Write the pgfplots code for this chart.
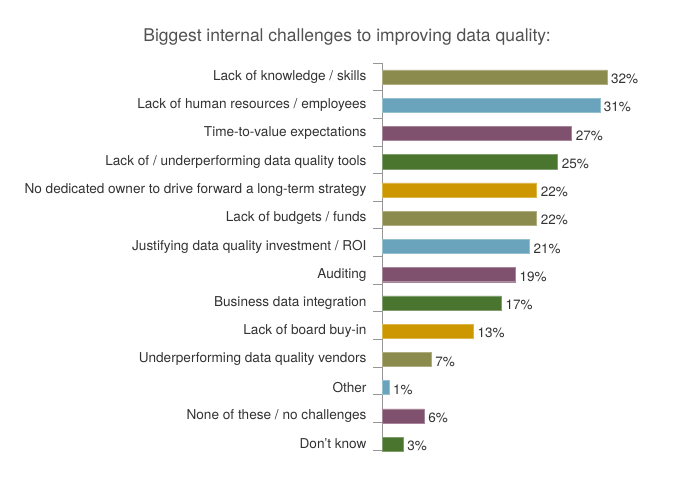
\documentclass[border=0pt]{standalone}
\usepackage{fontspec}
\setmainfont{TeX Gyre Heros}
\usepackage{pgfplots}
\pgfplotsset{compat=1.18}
\definecolor{colive}{RGB}{140,139,78}
\definecolor{cblue}{RGB}{105,164,188}
\definecolor{cpurple}{RGB}{128,81,110}
\definecolor{cgreen}{RGB}{73,117,46}
\definecolor{cgold}{RGB}{204,151,0}
\definecolor{txt}{RGB}{50,50,50}
\definecolor{axgray}{RGB}{150,150,150}
\begin{document}
\begin{tikzpicture}
\useasboundingbox (0,0) rectangle (700bp,492bp);
\node[font=\fontsize{17.5bp}{20bp}\selectfont, text=txt!85!white] at (347bp,455bp) {Biggest internal challenges to improving data quality:};
\begin{axis}[
  at={(382bp,42bp)}, anchor=south west,
  scale only axis, width=281bp, height=387bp,
  xmin=0, xmax=40,
  ymin=-0.496, ymax=13.21, y dir=reverse,
  hide x axis,
  axis y line=left,
  y axis line style={-, draw=axgray, line width=0.8pt},
  clip=false,
  xbar, bar width=0.5,
  ytick={0,...,13},
  yticklabels={Lack of knowledge / skills,Lack of human resources / employees,Time-to-value expectations,Lack of / underperforming data quality tools,No dedicated owner to drive forward a long-term strategy,Lack of budgets / funds,Justifying data quality investment / ROI,Auditing,Business data integration,Lack of board buy-in,Underperforming data quality vendors,Other,None of these / no challenges,Don't know},
  major tick length=0pt,
  minor ytick={-0.496,0.483,1.462,2.441,3.420,4.399,5.378,6.357,7.336,8.315,9.294,10.273,11.252,12.231,13.210},
  minor tick length=9bp,
  tick align=outside,
  minor tick style={draw=axgray, line width=0.8pt},
  yticklabel style={font=\fontsize{13.6bp}{15bp}\selectfont, text=txt, xshift=-12bp},
  point meta=x,
  nodes near coords={\pgfmathprintnumber{\pgfplotspointmeta}\%},
  nodes near coords style={font=\fontsize{13.5bp}{15bp}\selectfont, text=txt, anchor=west, inner sep=0pt, xshift=4bp, yshift=-2bp},
  /pgf/number format/assume math mode=true,
]
\addplot[fill=colive, draw=colive!70!white, bar shift=0pt] coordinates {(32,0) (22,5) (7,10)};
\addplot[fill=cblue, draw=cblue!70!white, bar shift=0pt] coordinates {(31,1) (21,6) (1,11)};
\addplot[fill=cpurple, draw=cpurple!70!white, bar shift=0pt] coordinates {(27,2) (19,7) (6,12)};
\addplot[fill=cgreen, draw=cgreen!70!white, bar shift=0pt] coordinates {(25,3) (17,8) (3,13)};
\addplot[fill=cgold, draw=cgold!70!white, bar shift=0pt] coordinates {(22,4) (13,9)};
\end{axis}
\end{tikzpicture}
\end{document}
